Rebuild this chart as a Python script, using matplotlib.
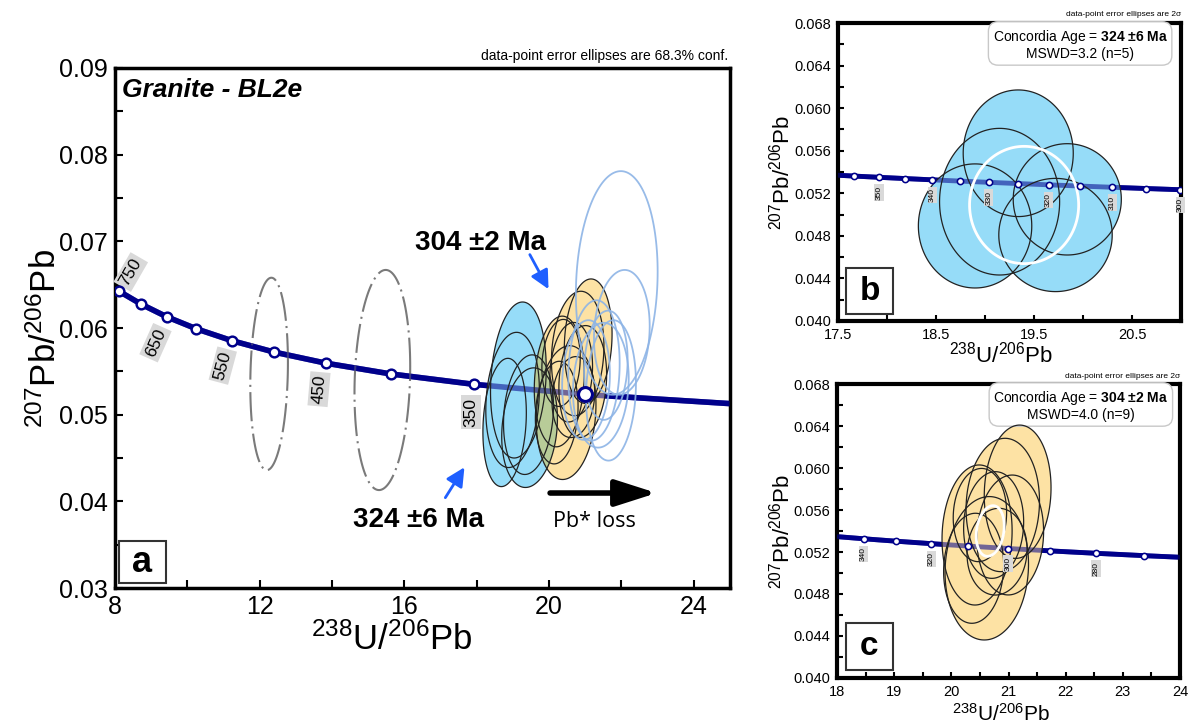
import numpy as np
import matplotlib
matplotlib.use('Agg')
import matplotlib.pyplot as plt
from matplotlib.patches import Polygon, Rectangle, PathPatch
from matplotlib.path import Path
from matplotlib.ticker import MultipleLocator, FixedLocator, FormatStrFormatter

plt.rcParams['font.family'] = ['Liberation Sans', 'DejaVu Sans']
plt.rcParams['mathtext.fontset'] = 'custom'
plt.rcParams['mathtext.rm'] = 'Liberation Sans'
plt.rcParams['mathtext.it'] = 'Liberation Sans:italic'
plt.rcParams['mathtext.bf'] = 'Liberation Sans:bold'

# concordia points, panel a (age in Ma, 238U/206Pb, 207Pb/206Pb)
conc_a_age = [750, 700, 650, 600, 550, 500, 450, 400, 350, 300, 250]
conc_a_x = [8.105, 8.718, 9.426, 10.252, 11.228, 12.399, 13.831, 15.621, 17.923, 20.992, 25.289]
conc_a_y = [0.06426, 0.06276, 0.06130, 0.05990, 0.05854, 0.05722, 0.05594, 0.05470, 0.05350, 0.05233, 0.05120]
conc_a_labels = [750, 650, 550, 450, 350]

# concordia points, panels b and c
conc_bc_age = [360, 355, 350, 345, 340, 335, 330, 325, 320, 315, 310, 305, 300, 290, 280, 270, 260]
conc_bc_x = [17.411, 17.664, 17.923, 18.190, 18.464, 18.747, 19.039, 19.339, 19.649, 19.969,
             20.299, 20.640, 20.992, 21.733, 22.527, 23.379, 24.297]
conc_bc_y = [0.053736, 0.053617, 0.053499, 0.053381, 0.053262, 0.053145, 0.053028, 0.052912,
             0.052795, 0.052679, 0.052563, 0.052448, 0.052333, 0.052105, 0.051877, 0.051651, 0.051426]
conc_b_labels = [350, 340, 330, 320, 310, 300]
conc_c_labels = [340, 320, 300, 280]

# error ellipses: centre x, centre y, half width, half height
blue_a_x = [19.15, 18.99, 19.43, 18.77, 19.46]
blue_a_y = [0.0540, 0.0517, 0.0500, 0.0491, 0.0485]
blue_a_sx = [0.77, 0.74, 0.69, 0.60, 0.77]
blue_a_sy = [0.0090, 0.0078, 0.0069, 0.0074, 0.0069]

yellow_a_x = [21.08, 20.79, 20.28, 20.47, 20.21, 20.61, 20.33, 20.67, 20.93]
yellow_a_y = [0.05848, 0.05706, 0.05383, 0.05024, 0.05024, 0.05490, 0.05597, 0.05203, 0.05383]
yellow_a_sx = [0.66, 0.725, 0.69, 0.825, 0.59, 0.59, 0.53, 0.59, 0.66]
yellow_a_sy = [0.00718, 0.00718, 0.00754, 0.00772, 0.00592, 0.00574, 0.00502, 0.00467, 0.00645]

yellow_c_x = [21.16, 20.90, 20.45, 20.62, 20.39, 20.74, 20.50, 20.80, 21.03]
yellow_c_y = [0.05774, 0.05648, 0.05362, 0.05045, 0.05045, 0.05457, 0.05552, 0.05203, 0.05362]
yellow_c_sx = [0.584, 0.642, 0.613, 0.730, 0.525, 0.525, 0.467, 0.525, 0.584]
yellow_c_sy = [0.00635, 0.00635, 0.00667, 0.00683, 0.00524, 0.00508, 0.00444, 0.00413, 0.00571]

lightblue_x = [21.87, 22.01, 21.71, 21.43, 21.24, 21.57, 21.02]
lightblue_y = [0.0652, 0.0595, 0.0528, 0.0534, 0.0551, 0.0557, 0.0540]
lightblue_sx = [1.13, 0.77, 0.69, 0.77, 0.71, 0.60, 0.66]
lightblue_sy = [0.0129, 0.0072, 0.0081, 0.0072, 0.0081, 0.0063, 0.0069]

gray_x = [12.26, 15.39]
gray_y = [0.0547, 0.0540]
gray_sx = [0.52, 0.77]
gray_sy = [0.0111, 0.0127]

blue_b_x = [19.34, 18.90, 19.84, 19.72, 19.15]
blue_b_y = [0.05576, 0.04893, 0.05143, 0.04808, 0.05121]
blue_b_sx = [0.561, 0.578, 0.551, 0.578, 0.612]
blue_b_sy = [0.00595, 0.00583, 0.00523, 0.00532, 0.00689]

# concordia age ellipses (x, y, half width, half height)
age_b = [19.40, 0.0509, 0.556, 0.00551]
age_c = [20.68, 0.0540, 0.245, 0.00241]

NAVY = '#00008b'
BLUE = '#96dcf8'
YELLOW = '#fde2a4'
OLIVE = '#b8cc98'
LIGHTBLUE = '#8db4e6'
LABEL_BG = '#d9d9d9'


def ellipse_pts(cx, cy, sx, sy, rho=0.0, n=160):
    t = np.linspace(0, 2 * np.pi, n)
    x = cx + sx * np.cos(t)
    y = cy + sy * (rho * np.cos(t) + np.sqrt(1 - rho ** 2) * np.sin(t))
    return np.column_stack([x, y])


def add_ellipses(ax, xs, ys, sxs, sys_, rho, fc, ec, lw, z_fill, z_edge, ls='-', alpha_edge=1.0):
    paths = []
    for cx, cy, sx, sy in zip(xs, ys, sxs, sys_):
        pts = ellipse_pts(cx, cy, sx, sy, rho)
        if fc != 'none':
            ax.add_patch(Polygon(pts, closed=True, fc=fc, ec='none', zorder=z_fill))
        ax.add_patch(Polygon(pts, closed=True, fc='none', ec=ec, lw=lw, ls=ls,
                             alpha=alpha_edge, zorder=z_edge))
        paths.append(Path(pts))
    return paths


def style_axes(ax, spine_lw, labelsize, ticklen):
    for s in ax.spines.values():
        s.set_linewidth(spine_lw)
    ax.tick_params(which='both', direction='in', top=False, right=False,
                   length=ticklen, width=1.5, labelsize=labelsize, pad=5)


def panel_box(ax, letter, rect, size):
    ax.add_patch(Rectangle(rect[:2], rect[2], rect[3], transform=ax.transAxes,
                           fc='white', ec='#333333', lw=1.5, zorder=20))
    ax.text(rect[0] + rect[2] / 2, rect[1] + rect[3] / 2, letter, transform=ax.transAxes,
            ha='center', va='center', fontsize=size, fontweight='bold', zorder=21)


def concordia(ax, xs, ys, ages, marker_ages, label_ages, lw, ms, label_size, offsets, rotations):
    ax.plot(xs, ys, color=NAVY, lw=lw, zorder=2, solid_capstyle='butt')
    # see-through copy on top of the ellipse fills
    ax.plot(xs, ys, color=NAVY, lw=lw, alpha=0.55, zorder=5, solid_capstyle='butt')
    mx = [x for x, a in zip(xs, ages) if a in marker_ages]
    my = [y for y, a in zip(ys, ages) if a in marker_ages]
    ax.plot(mx, my, 'o', ms=ms, mfc='white', mec=NAVY, mew=ms / 4, zorder=9)
    for a, off, rot in zip(label_ages, offsets, rotations):
        i = ages.index(a)
        ax.annotate(str(a), (xs[i], ys[i]), xytext=off, textcoords='offset points',
                    rotation=rot, ha='center', va='center', fontsize=label_size, zorder=8,
                    bbox=dict(boxstyle='square,pad=0.15', fc=LABEL_BG, ec='none'))


fig = plt.figure(figsize=(11.93, 7.28), dpi=100)

# ---------------- panel a ----------------
ax_a = fig.add_axes([0.0964, 0.1923, 0.5155, 0.7143])
ax_a.set_xlim(8, 25)
ax_a.set_ylim(0.03, 0.09)
style_axes(ax_a, 2.5, 18, 5.5)
ax_a.xaxis.set_major_locator(FixedLocator([8, 12, 16, 20, 24]))
ax_a.xaxis.set_minor_locator(MultipleLocator(2))
ax_a.yaxis.set_major_locator(MultipleLocator(0.01))
ax_a.yaxis.set_minor_locator(MultipleLocator(0.005))
ax_a.yaxis.set_major_formatter(FormatStrFormatter('%.2f'))

concordia(ax_a, conc_a_x, conc_a_y, conc_a_age, conc_a_age[:9], conc_a_labels,
          4, 7, 12.5,
          [(8.6, 13.7), (-8, -18.7), (-6.5, -18), (-5, -18.7), (-2, -20)],
          [60, 66, 75, 85, 90])
ax_a.plot(conc_a_x[9], conc_a_y[9], 'o', ms=10, mfc='white', mec=NAVY, mew=2.2, zorder=9)

add_ellipses(ax_a, gray_x, gray_y, gray_sx, gray_sy, 0.12, 'none', '#7a7a7a', 1.5, 3, 3,
             ls=(0, (14, 2.5, 1, 2.5)))
add_ellipses(ax_a, blue_a_x, blue_a_y, blue_a_sx, blue_a_sy, 0.15, BLUE, '#222222', 0.9, 3, 6)
yel_paths = add_ellipses(ax_a, yellow_a_x, yellow_a_y, yellow_a_sx, yellow_a_sy, 0.12, YELLOW,
                         '#222222', 0.9, 4, 6)
# greenish tint where blue and yellow overlap
clip = PathPatch(Path.make_compound_path(*yel_paths), transform=ax_a.transData)
for cx, cy, sx, sy in zip(blue_a_x, blue_a_y, blue_a_sx, blue_a_sy):
    p = Polygon(ellipse_pts(cx, cy, sx, sy, 0.15), closed=True, fc=OLIVE, ec='none', zorder=4.5)
    ax_a.add_patch(p)
    p.set_clip_path(clip)
add_ellipses(ax_a, lightblue_x, lightblue_y, lightblue_sx, lightblue_sy, 0.1, 'none',
             LIGHTBLUE, 1.3, 6, 6, alpha_edge=0.9)

ax_a.text(0.011, 0.958, 'Granite - BL2e', transform=ax_a.transAxes, ha='left', va='center',
          fontsize=19, fontweight='bold', fontstyle='italic')
ax_a.text(0.997, 1.023, 'data-point error ellipses are 68.3% conf.', transform=ax_a.transAxes,
          ha='right', va='center', fontsize=10)
ax_a.text(18.11, 0.06979, '304 ±2 Ma', ha='center', va='center', fontsize=20, fontweight='bold')
ax_a.text(16.38, 0.03784, '324 ±6 Ma', ha='center', va='center', fontsize=20, fontweight='bold')
ax_a.text(21.24, 0.03773, 'Pb* loss', ha='center', va='center', fontsize=15.5, family='Open Sans')
ax_a.annotate('', xy=(20.02, 0.06420), xytext=(19.43, 0.06875),
              arrowprops=dict(arrowstyle='-|>,head_length=0.7,head_width=0.35', color='#1f5fff',
                              lw=2, mutation_scale=16))
ax_a.annotate('', xy=(17.70, 0.04420), xytext=(17.09, 0.04015),
              arrowprops=dict(arrowstyle='-|>,head_length=0.7,head_width=0.35', color='#1f5fff',
                              lw=2, mutation_scale=16))
ax_a.annotate('', xy=(23.05, 0.04096), xytext=(19.95, 0.04096),
              arrowprops=dict(arrowstyle='-|>,head_length=1.0,head_width=0.32', color='black',
                              lw=4, mutation_scale=25))
panel_box(ax_a, 'a', [0.0065, 0.0096, 0.0764, 0.0808], 26)

ax_a.set_xlabel(r'$^{238}$U/$^{206}$Pb', fontsize=25)
ax_a.set_ylabel(r'$^{207}$Pb/$^{206}$Pb', fontsize=25)
ax_a.xaxis.set_label_coords(0.45, -0.065)
ax_a.yaxis.set_label_coords(-0.085, 0.48)

# ---------------- panel b ----------------
ax_b = fig.add_axes([0.7022, 0.5591, 0.2878, 0.4093])
ax_b.set_xlim(17.5, 21.0)
ax_b.set_ylim(0.040, 0.068)
style_axes(ax_b, 3, 10.5, 4)
ax_b.xaxis.set_major_locator(FixedLocator([17.5, 18.5, 19.5, 20.5]))
ax_b.xaxis.set_minor_locator(MultipleLocator(0.5))
ax_b.xaxis.set_major_formatter(FormatStrFormatter('%.1f'))
ax_b.yaxis.set_major_locator(MultipleLocator(0.004))
ax_b.yaxis.set_minor_locator(MultipleLocator(0.002))
ax_b.yaxis.set_major_formatter(FormatStrFormatter('%.3f'))

concordia(ax_b, conc_bc_x, conc_bc_y, conc_bc_age, conc_bc_age, conc_b_labels,
          3.5, 4.5, 6, [(0, -11)] * 6, [90] * 6)
add_ellipses(ax_b, blue_b_x, blue_b_y, blue_b_sx, blue_b_sy, 0.0, BLUE, '#222222', 0.9, 3, 6)
ax_b.add_patch(Polygon(ellipse_pts(*age_b), closed=True, fc='none', ec='white', lw=2, zorder=7))

ax_b.text(0.706, 0.928, 'Concordia Age = $\\mathbf{324\\ ±6\\ Ma}$\nMSWD=3.2 (n=5)',
          transform=ax_b.transAxes, ha='center', va='center', fontsize=10, linespacing=1.1,
          bbox=dict(boxstyle='round,pad=0.3,rounding_size=0.7', fc='white', ec='#c8c8c8', lw=1))
ax_b.text(1.0, 1.027, 'data-point error ellipses are 2σ', transform=ax_b.transAxes,
          ha='right', va='center', fontsize=6)
panel_box(ax_b, 'b', [0.024, 0.0235, 0.137, 0.154], 24)
ax_b.set_xlabel(r'$^{238}$U/$^{206}$Pb', fontsize=16)
ax_b.set_ylabel(r'$^{207}$Pb/$^{206}$Pb', fontsize=16)
ax_b.xaxis.set_label_coords(0.475, -0.07)
ax_b.yaxis.set_label_coords(-0.125, 0.5)

# ---------------- panel c ----------------
ax_c = fig.add_axes([0.7016, 0.0687, 0.2875, 0.4038])
ax_c.set_xlim(18, 24)
ax_c.set_ylim(0.040, 0.068)
style_axes(ax_c, 3, 10.5, 4)
ax_c.xaxis.set_major_locator(MultipleLocator(1))
ax_c.xaxis.set_minor_locator(MultipleLocator(0.5))
ax_c.yaxis.set_major_locator(MultipleLocator(0.004))
ax_c.yaxis.set_minor_locator(MultipleLocator(0.002))
ax_c.yaxis.set_major_formatter(FormatStrFormatter('%.3f'))

marks_c = [a for a in conc_bc_age if a % 10 == 0]
concordia(ax_c, conc_bc_x, conc_bc_y, conc_bc_age, marks_c, conc_c_labels,
          3.5, 4.5, 6, [(0, -11)] * 4, [90] * 4)
add_ellipses(ax_c, yellow_c_x, yellow_c_y, yellow_c_sx, yellow_c_sy, 0.06, YELLOW, '#222222',
             0.9, 3, 6)
ax_c.add_patch(Polygon(ellipse_pts(*age_c, rho=0.2), closed=True, fc='none', ec='white', lw=2, zorder=7))

ax_c.text(0.711, 0.927, 'Concordia Age = $\\mathbf{304\\ ±2\\ Ma}$\nMSWD=4.0 (n=9)',
          transform=ax_c.transAxes, ha='center', va='center', fontsize=10, linespacing=1.1,
          bbox=dict(boxstyle='round,pad=0.3,rounding_size=0.7', fc='white', ec='#c8c8c8', lw=1))
ax_c.text(1.0, 1.024, 'data-point error ellipses are 2σ', transform=ax_c.transAxes,
          ha='right', va='center', fontsize=6)
panel_box(ax_c, 'c', [0.026, 0.027, 0.137, 0.160], 24)
ax_c.set_xlabel(r'$^{238}$U/$^{206}$Pb', fontsize=15)
ax_c.set_ylabel(r'$^{207}$Pb/$^{206}$Pb', fontsize=16)
ax_c.xaxis.set_label_coords(0.477, -0.085)
ax_c.yaxis.set_label_coords(-0.125, 0.5)

fig.savefig('out.png', dpi=100)
